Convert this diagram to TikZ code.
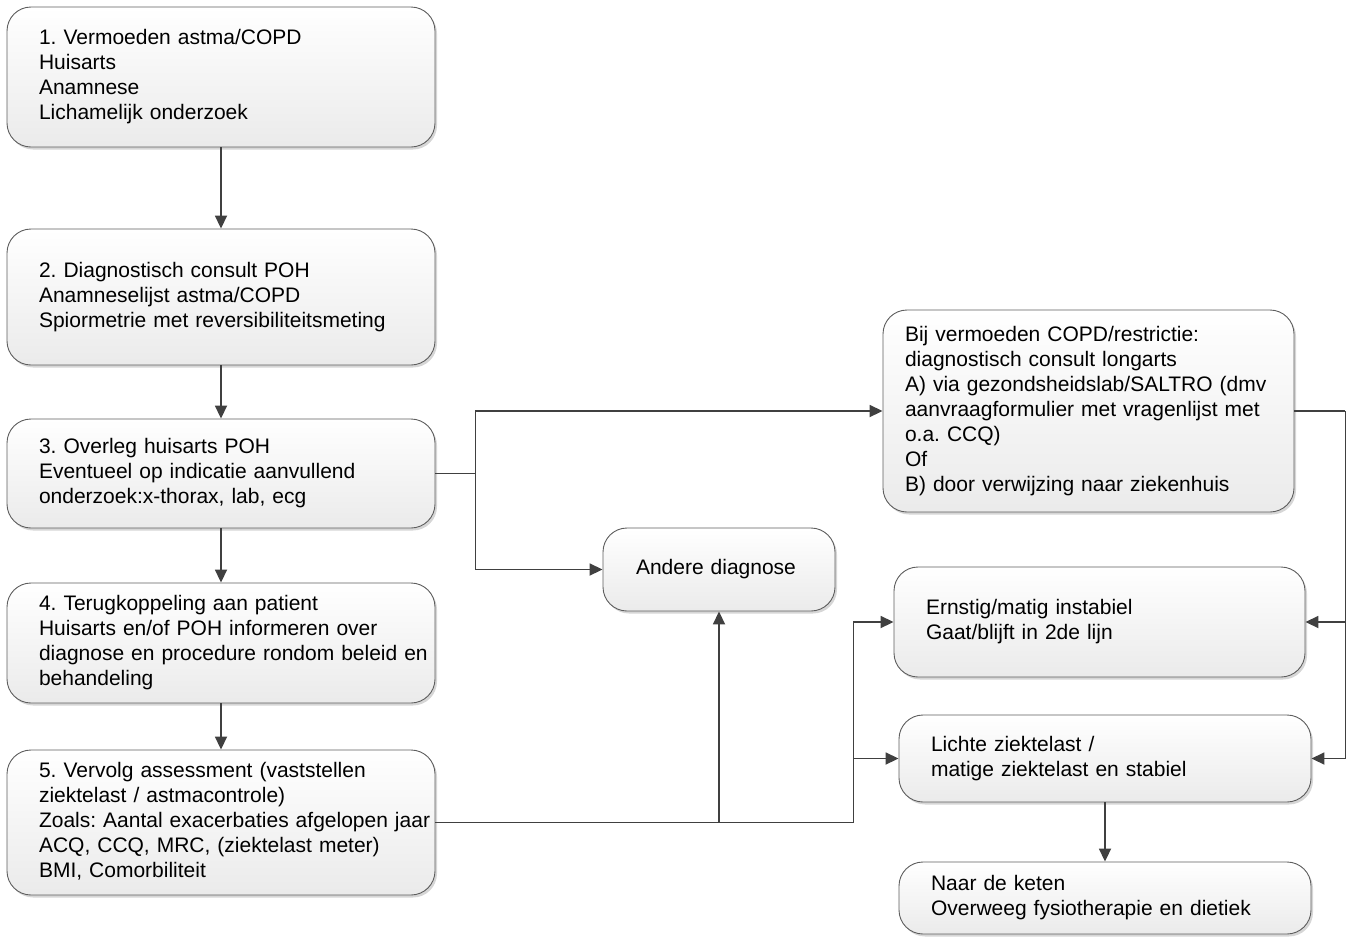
\documentclass[tikz,border=0pt]{standalone}
\usepackage{fontspec}
\setmainfont{Liberation Sans}
\usetikzlibrary{arrows.meta,shadows}
\newcommand{\boxlines}[1]{\begin{tabular}{@{}l@{}}#1\end{tabular}}
\definecolor{edgecol}{HTML}{5E5E5E}
\definecolor{conncol}{HTML}{404040}
\frenchspacing
\begin{document}
\begin{tikzpicture}[x=1pt,y=-1pt,
  box/.style={draw=edgecol, line width=0.9pt, rounded corners=24pt,
    top color=white, bottom color=black!8,
    drop shadow={shadow xshift=2pt, shadow yshift=-2.5pt, fill=black, opacity=0.16},
    inner ysep=0pt, align=left, font=\fontsize{21}{25}\selectfont\frenchspacing},
  conn/.style={draw=conncol, line width=1.8pt, -{Triangle[length=13pt,width=12pt]}},
  plain/.style={draw=conncol, line width=1.8pt}]
\useasboundingbox (0,0) rectangle (1353,938);

\node[box, minimum width=428pt, minimum height=140pt, text width=364pt, inner xsep=32pt] (b1) at (221,77)
  {\boxlines{1. Vermoeden astma/COPD\\Huisarts\\Anamnese\\Lichamelijk onderzoek}};
\node[box, minimum width=428pt, minimum height=136pt, text width=364pt, inner xsep=32pt] (b2) at (221,297)
  {\boxlines{2. Diagnostisch consult POH\\Anamneselijst astma/COPD\\Spiormetrie met reversibiliteitsmeting}};
\node[box, minimum width=428pt, minimum height=109pt, text width=364pt, inner xsep=32pt] (b3) at (221,473.5)
  {\boxlines{3. Overleg huisarts POH\\Eventueel op indicatie aanvullend\\onderzoek:x-thorax, lab, ecg}};
\node[box, minimum width=428pt, minimum height=120pt, text width=364pt, inner xsep=32pt] (b4) at (221,643)
  {\boxlines{4. Terugkoppeling aan patient\\Huisarts en/of POH informeren over\\diagnose en procedure rondom beleid en\\behandeling}};
\node[box, minimum width=428pt, minimum height=145pt, text width=364pt, inner xsep=32pt] (b5) at (221,822.5)
  {\boxlines{5. Vervolg assessment (vaststellen\\ziektelast / astmacontrole)\\Zoals: Aantal exacerbaties afgelopen jaar\\ACQ, CCQ, MRC, (ziektelast meter)\\BMI, Comorbiliteit}};

\node[box, minimum width=232pt, minimum height=83pt, text width=166pt, inner xsep=33pt] (andere) at (719,569.5)
  {\boxlines{Andere diagnose}};
\node[box, minimum width=411pt, minimum height=202pt, text width=367pt, inner xsep=22pt] (bij) at (1088.5,411)
  {\boxlines{Bij vermoeden COPD/restrictie:\\diagnostisch consult longarts\\A) via gezondsheidslab/SALTRO (dmv\\aanvraagformulier met vragenlijst met\\o.a. CCQ)\\Of\\B) door verwijzing naar ziekenhuis}};
\node[box, minimum width=411pt, minimum height=110pt, text width=347pt, inner xsep=32pt] (ernstig) at (1099.5,622)
  {\boxlines{Ernstig/matig instabiel\\Gaat/blijft in 2de lijn}};
\node[box, minimum width=412pt, minimum height=87pt, text width=348pt, inner xsep=32pt] (lichte) at (1105,758.5)
  {\boxlines{Lichte ziektelast /\\matige ziektelast en stabiel}};
\node[box, minimum width=412pt, minimum height=72pt, text width=348pt, inner xsep=32pt] (naar) at (1105,898)
  {\boxlines{Naar de keten\\Overweeg fysiotherapie en dietiek}};

% vertical chain
\draw[conn] (b1.south) -- (b2.north);
\draw[conn] (b2.south) -- (b3.north);
\draw[conn] (b3.south) -- (b4.north);
\draw[conn] (b4.south) -- (b5.north);

% from box 3
\coordinate (j1) at ([xshift=40pt]b3.east);
\draw[plain] (b3.east) -- (j1);
\draw[conn] (j1) |- (bij.west);
\draw[conn] (j1) |- (andere.west);

% from longarts box
\coordinate (j2) at ([xshift=51pt]bij.east);
\draw[plain] (bij.east) -- (j2);
\draw[conn] (j2) |- (ernstig.east);
\draw[conn] (j2) |- (lichte.east);

% from box 5
\coordinate (j3) at ([xshift=418pt]b5.east);
\coordinate (j4) at (andere.south |- b5.east);
\draw[plain] (b5.east) -- (j3);
\draw[conn] (j4) -- (andere.south);
\draw[conn] (j3) |- (ernstig.west);
\draw[conn] (j3) |- (lichte.west);

\draw[conn] (lichte.south) -- (naar.north);
\end{tikzpicture}
\end{document}
